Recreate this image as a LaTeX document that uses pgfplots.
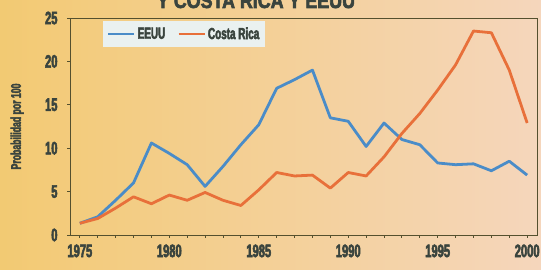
\documentclass[border=0pt]{standalone}
\usepackage{pgfplots}
\pgfplotsset{compat=1.18}
\usepackage{fontspec}
\setmainfont{Liberation Sans Bold}[FakeStretch=0.62, FakeBold=3]
\newfontfamily\titlefont{Liberation Sans Bold}[FakeStretch=0.85, FakeBold=3]
\definecolor{txt}{HTML}{3A443E}
\definecolor{axc}{HTML}{54502E}
\definecolor{eeuu}{HTML}{4A8CC8}
\definecolor{cr}{HTML}{E8703A}
\definecolor{bgL}{HTML}{F1C463}
\definecolor{bgR}{HTML}{F5D6BC}
\definecolor{legbg}{HTML}{EAF1F0}
\begin{document}
\begin{tikzpicture}
\useasboundingbox (0,0) rectangle (541bp,270bp);
\shade[left color=bgL!90!white, right color=bgR] (0,0) rectangle (541bp,270bp);
\node[anchor=base, text=txt, font=\titlefont\fontsize{21bp}{21bp}\selectfont] at (256bp,262bp) {Y COSTA RICA Y EEUU};
\begin{axis}[
  at={(70bp,35bp)}, anchor=south west,
  scale only axis, width=467bp, height=217bp,
  xmin=1974.45, xmax=2000.55, ymin=0, ymax=25,
  axis line style={axc, line width=0.9pt},
  xtick={1975,1980,...,2000}, minor xtick={1975,...,2000},
  ytick={0,5,...,25},
  tick align=outside, tick pos=left,
  major tick length=3bp, minor tick length=3bp,
  tick style={axc, line width=0.8pt},
  every tick label/.append style={text=txt, font=\fontsize{18bp}{18bp}\selectfont},
  /pgf/number format/assume math mode=true,
  xticklabel style={/pgf/number format/1000 sep={}, yshift=-3bp},
  yticklabel style={xshift=-6bp},
  ylabel={Probabilidad por 100},
  ylabel style={text=txt, font=\fontsize{14bp}{14bp}\selectfont, at={(axis description cs:-0.113,0.5)}, anchor=center},
  legend style={at={(axis description cs:0.07,0.985)}, anchor=north west, fill=legbg, draw=none,
    font=\fontsize{16bp}{16bp}\selectfont, text=txt, legend columns=2,
    /tikz/every even column/.append style={column sep=10bp}, inner sep=4bp},
  legend image code/.code={\draw[#1, line width=2.8pt] (0bp,0bp) -- (26bp,0bp);},
  clip=false,
]
\addplot[eeuu, line width=2.8pt, line join=round] coordinates {
(1975,1.35)(1976,2.1)(1977,4.0)(1978,6.0)(1979,10.6)(1980,9.4)(1981,8.1)(1982,5.6)(1983,7.9)(1984,10.4)(1985,12.7)(1986,16.9)(1987,17.9)(1988,19.0)(1989,13.5)(1990,13.1)(1991,10.2)(1992,12.9)(1993,11.0)(1994,10.4)(1995,8.3)(1996,8.1)(1997,8.2)(1998,7.4)(1999,8.5)(2000,6.9)};
\addlegendentry{EEUU}
\addplot[cr, line width=2.8pt, line join=round] coordinates {
(1975,1.35)(1976,1.9)(1977,3.1)(1978,4.4)(1979,3.6)(1980,4.6)(1981,4.0)(1982,4.9)(1983,4.0)(1984,3.4)(1985,5.2)(1986,7.2)(1987,6.8)(1988,6.9)(1989,5.4)(1990,7.2)(1991,6.8)(1992,9.0)(1993,11.7)(1994,14.0)(1995,16.7)(1996,19.6)(1997,23.5)(1998,23.3)(1999,19.0)(2000,12.9)};
\addlegendentry{Costa Rica}
\draw[axc, line width=0.5pt] (axis cs:1974.45,25) -- (axis cs:2000.55,25) -- (axis cs:2000.55,0);
\end{axis}
\end{tikzpicture}
\end{document}
